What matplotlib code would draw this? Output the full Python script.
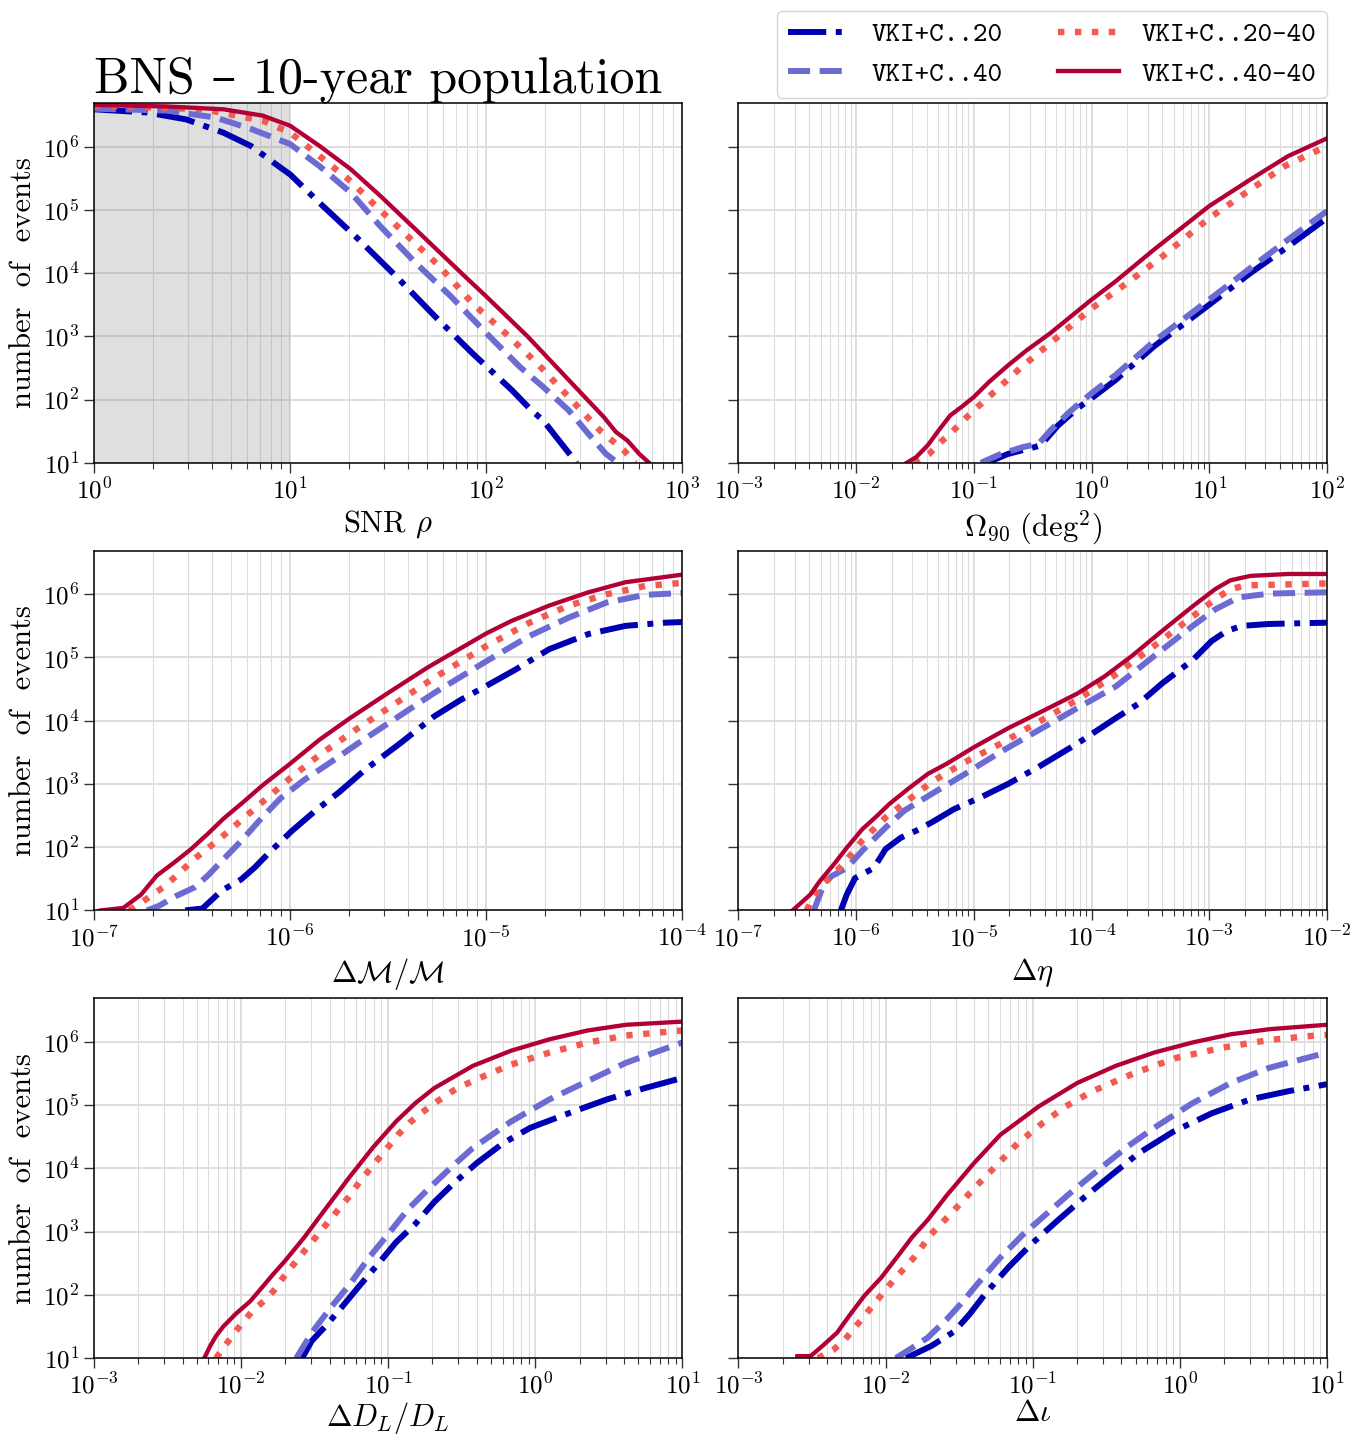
import numpy as np
import matplotlib
matplotlib.use("Agg")
import matplotlib.pyplot as plt
from matplotlib.ticker import LogLocator, FuncFormatter, NullLocator

# values, stored as (log10 x, log10 N) pairs
snr_20 = [(0, 6.59), (0.27, 6.54), (0.47, 6.43), (0.66, 6.22), (0.80, 6.01), (0.95, 5.67),
          (1.0, 5.56), (1.15, 5.11), (1.35, 4.53), (1.54, 3.95), (1.74, 3.31), (1.93, 2.73),
          (2.13, 2.15), (2.23, 1.83), (2.29, 1.67), (2.46, 1.0)]
snr_40 = [(0, 6.60), (0.37, 6.57), (0.62, 6.46), (0.80, 6.28), (1.0, 6.04), (1.15, 5.69),
          (1.31, 5.27), (1.46, 4.74), (1.64, 4.16), (1.82, 3.63), (2.0, 3.05), (2.17, 2.52),
          (2.29, 2.20), (2.42, 1.83), (2.52, 1.46), (2.61, 1.14), (2.67, 1.0)]
snr_2040 = [(0, 6.65), (0.56, 6.59), (0.86, 6.41), (1.0, 6.22), (1.13, 5.90), (1.31, 5.45),
            (1.42, 5.11), (1.59, 4.61), (1.76, 4.11), (1.93, 3.52), (2.09, 3.07), (2.26, 2.57),
            (2.42, 2.04), (2.58, 1.51), (2.70, 1.20), (2.76, 1.0)]
snr_4040 = [(0, 6.66), (0.37, 6.635), (0.66, 6.59), (0.86, 6.49), (1.0, 6.33), (1.15, 6.01),
            (1.31, 5.64), (1.46, 5.22), (1.64, 4.69), (1.89, 3.95), (2.0, 3.63), (2.21, 3.0),
            (2.42, 2.31), (2.60, 1.72), (2.66, 1.49), (2.72, 1.35), (2.78, 1.14), (2.83, 1.0)]

om_20 = [(-0.89, 1.0), (-0.71, 1.14), (-0.48, 1.25), (-0.43, 1.28), (-0.285, 1.59), (-0.12, 1.86),
         (0, 2.02), (0.205, 2.31), (0.53, 2.84), (1.0, 3.50), (1.35, 4.0), (1.67, 4.42), (2.0, 4.87)]
om_40 = [(-0.94, 1.0), (-0.77, 1.14), (-0.58, 1.25), (-0.45, 1.30), (-0.35, 1.51), (-0.19, 1.80),
         (0, 2.10), (0.205, 2.39), (0.53, 2.92), (1.0, 3.58), (1.35, 4.08), (1.67, 4.53), (2.0, 4.98)]
om_2040 = [(-1.51, 1.0), (-1.38, 1.14), (-1.28, 1.33), (-1.2, 1.46), (-1.1, 1.65), (-1.0, 1.83),
           (-0.81, 2.15), (-0.61, 2.49), (-0.32, 2.94), (0, 3.44), (0.30, 3.84), (0.60, 4.26),
           (1.0, 4.87), (1.35, 5.32), (1.64, 5.69), (2.0, 6.01)]
om_4040 = [(-1.57, 1.0), (-1.49, 1.09), (-1.39, 1.28), (-1.30, 1.51), (-1.2, 1.75), (-1.1, 1.89),
           (-1.0, 2.04), (-0.87, 2.28), (-0.71, 2.54), (-0.55, 2.78), (-0.35, 3.05), (0, 3.58),
           (0.205, 3.87), (0.53, 4.37), (1.0, 5.06), (1.35, 5.48), (1.67, 5.85), (2.0, 6.13)]

mc_20 = [(-6.535, 1.0), (-6.447, 1.03), (-6.35, 1.31), (-6.25, 1.49), (-6.18, 1.68), (-6.105, 1.92),
         (-5.99, 2.26), (-5.87, 2.58), (-5.75, 2.87), (-5.62, 3.22), (-5.44, 3.64), (-5.265, 4.07),
         (-5.13, 4.33), (-5.0, 4.55), (-4.85, 4.81), (-4.68, 5.13), (-4.48, 5.37), (-4.29, 5.50),
         (-4.09, 5.55), (-4.0, 5.56)]
mc_40 = [(-6.73, 1.0), (-6.67, 1.07), (-6.58, 1.23), (-6.49, 1.36), (-6.42, 1.55), (-6.33, 1.84),
         (-6.24, 2.13), (-6.14, 2.48), (-6.05, 2.77), (-5.93, 3.06), (-5.79, 3.35), (-5.655, 3.64),
         (-5.46, 4.04), (-5.265, 4.44), (-5.0, 4.94), (-4.78, 5.34), (-4.58, 5.63), (-4.385, 5.87),
         (-4.19, 5.99), (-4.0, 6.02)]
mc_2040 = [(-6.82, 1.0), (-6.77, 1.10), (-6.71, 1.23), (-6.65, 1.36), (-6.59, 1.52), (-6.49, 1.81),
           (-6.36, 2.13), (-6.24, 2.45), (-6.12, 2.77), (-6.0, 3.09), (-5.85, 3.46), (-5.655, 3.88),
           (-5.46, 4.28), (-5.265, 4.68), (-5.0, 5.18), (-4.78, 5.55), (-4.58, 5.82), (-4.385, 6.0),
           (-4.19, 6.13), (-4.0, 6.18)]
mc_4040 = [(-6.965, 1.0), (-6.85, 1.04), (-6.76, 1.25), (-6.68, 1.55), (-6.59, 1.76), (-6.505, 1.97),
           (-6.42, 2.21), (-6.34, 2.45), (-6.24, 2.71), (-6.14, 2.98), (-6.0, 3.32), (-5.85, 3.70),
           (-5.695, 4.04), (-5.5, 4.44), (-5.30, 4.84), (-5.0, 5.38), (-4.87, 5.58), (-4.68, 5.82),
           (-4.48, 6.03), (-4.29, 6.19), (-4.0, 6.31)]

eta_20 = [(-6.13, 1.0), (-6.08, 1.25), (-6.01, 1.51), (-5.93, 1.59), (-5.85, 1.67), (-5.75, 1.97),
          (-5.62, 2.15), (-5.49, 2.26), (-5.36, 2.39), (-5.17, 2.60), (-4.94, 2.79), (-4.71, 3.0),
          (-4.45, 3.27), (-4.12, 3.64), (-3.795, 4.04), (-3.6, 4.27), (-3.40, 4.59), (-3.14, 4.96),
          (-2.98, 5.26), (-2.85, 5.42), (-2.72, 5.50), (-2.49, 5.53), (-2.0, 5.55)]
eta_40 = [(-6.36, 1.0), (-6.275, 1.41), (-6.21, 1.54), (-6.08, 1.67), (-5.95, 1.94), (-5.75, 2.31),
          (-5.59, 2.58), (-5.36, 2.84), (-5.1, 3.13), (-4.77, 3.51), (-4.45, 3.85), (-4.12, 4.20),
          (-3.795, 4.54), (-3.47, 5.02), (-3.14, 5.50), (-2.95, 5.76), (-2.75, 5.95), (-2.49, 6.01),
          (-2.0, 6.03)]
eta_2040 = [(-6.42, 1.0), (-6.37, 1.2), (-6.29, 1.41), (-6.21, 1.54), (-6.11, 1.73), (-5.95, 2.10),
            (-5.75, 2.47), (-5.56, 2.74), (-5.36, 3.03), (-5.1, 3.32), (-4.77, 3.64), (-4.45, 3.98),
            (-4.12, 4.33), (-3.795, 4.73), (-3.47, 5.18), (-3.14, 5.65), (-2.95, 5.92), (-2.82, 6.08),
            (-2.69, 6.14), (-2.0, 6.17)]
eta_4040 = [(-6.54, 1.0), (-6.39, 1.25), (-6.31, 1.46), (-6.18, 1.75), (-6.08, 1.99), (-5.95, 2.28),
            (-5.82, 2.50), (-5.72, 2.68), (-5.56, 2.92), (-5.39, 3.16), (-5.23, 3.32), (-5.0, 3.58),
            (-4.71, 3.88), (-4.45, 4.12), (-4.12, 4.43), (-3.89, 4.70), (-3.66, 5.02), (-3.40, 5.42),
            (-3.14, 5.81), (-2.95, 6.08), (-2.82, 6.22), (-2.65, 6.29), (-2.33, 6.32), (-2.0, 6.32)]

dl_20 = [(-1.585, 1.0), (-1.52, 1.27), (-1.416, 1.53), (-1.31, 1.82), (-1.207, 2.11), (-1.05, 2.54),
         (-0.947, 2.83), (-0.816, 3.12), (-0.686, 3.47), (-0.556, 3.76), (-0.40, 4.08), (-0.217, 4.40),
         (-0.035, 4.64), (0.226, 4.87), (0.487, 5.09), (0.747, 5.27), (1.0, 5.43)]
dl_40 = [(-1.624, 1.0), (-1.57, 1.21), (-1.494, 1.48), (-1.39, 1.80), (-1.26, 2.17), (-1.13, 2.59),
         (-1.0, 2.96), (-0.87, 3.34), (-0.738, 3.65), (-0.556, 4.05), (-0.425, 4.32), (-0.165, 4.74),
         (0.096, 5.09), (0.356, 5.38), (0.617, 5.67), (1.0, 5.99)]
dl_2040 = [(-2.17, 1.0), (-2.12, 1.16), (-2.054, 1.37), (-1.99, 1.56), (-1.924, 1.74), (-1.846, 1.90),
           (-1.78, 2.06), (-1.715, 2.27), (-1.65, 2.46), (-1.585, 2.65), (-1.52, 2.83), (-1.455, 3.02),
           (-1.39, 3.20), (-1.324, 3.39), (-1.26, 3.57), (-1.194, 3.79), (-1.13, 3.97), (-1.064, 4.16),
           (-1.0, 4.34), (-0.934, 4.53), (-0.855, 4.72), (-0.777, 4.87), (-0.686, 5.03), (-0.53, 5.27),
           (-0.347, 5.46), (-0.165, 5.64), (0.096, 5.83), (0.356, 5.99), (0.617, 6.10), (1.0, 6.18)]
dl_4040 = [(-2.25, 1.0), (-2.21, 1.19), (-2.17, 1.35), (-2.12, 1.50), (-2.04, 1.69), (-1.937, 1.90),
           (-1.86, 2.11), (-1.78, 2.33), (-1.70, 2.54), (-1.57, 2.91), (-1.416, 3.39), (-1.26, 3.87),
           (-1.10, 4.34), (-0.947, 4.74), (-0.816, 5.03), (-0.686, 5.27), (-0.425, 5.62), (-0.165, 5.86),
           (0.096, 6.04), (0.356, 6.18), (0.617, 6.27), (1.0, 6.32)]

iota_20 = [(-1.86, 1.0), (-1.69, 1.19), (-1.533, 1.42), (-1.43, 1.69), (-1.324, 2.01), (-1.167, 2.43),
           (-1.01, 2.80), (-0.828, 3.18), (-0.645, 3.55), (-0.467, 3.89), (-0.279, 4.24), (-0.044, 4.58),
           (0.217, 4.87), (0.478, 5.09), (0.739, 5.22), (1.0, 5.33)]
iota_40 = [(-1.93, 1.0), (-1.82, 1.16), (-1.715, 1.32), (-1.585, 1.61), (-1.48, 1.88), (-1.376, 2.17),
           (-1.22, 2.59), (-1.063, 2.96), (-0.906, 3.28), (-0.75, 3.60), (-0.567, 3.95), (-0.358, 4.34),
           (-0.175, 4.64), (0.086, 5.03), (0.347, 5.35), (0.608, 5.59), (1.0, 5.83)]
iota_2040 = [(-2.46, 1.0), (-2.355, 1.13), (-2.277, 1.29), (-2.21, 1.48), (-2.146, 1.66), (-2.08, 1.85),
             (-1.95, 2.22), (-1.807, 2.59), (-1.69, 2.96), (-1.533, 3.34), (-1.40, 3.68), (-1.245, 4.05),
             (-1.10, 4.40), (-0.93, 4.72), (-0.775, 4.98), (-0.593, 5.22), (-0.305, 5.51), (-0.018, 5.75),
             (0.295, 5.91), (0.608, 6.03), (0.92, 6.10), (1.0, 6.11)]
iota_4040 = [(-2.60, 1.03), (-2.51, 1.03), (-2.42, 1.21), (-2.33, 1.40), (-2.24, 1.69), (-2.146, 1.98),
             (-2.03, 2.27), (-1.924, 2.59), (-1.82, 2.91), (-1.715, 3.18), (-1.585, 3.57), (-1.40, 4.08),
             (-1.22, 4.53), (-0.958, 4.98), (-0.697, 5.35), (-0.436, 5.62), (-0.175, 5.83), (0.086, 5.99),
             (0.347, 6.12), (0.608, 6.20), (1.0, 6.27)]

labels = ["VKI+C..20", "VKI+C..40", "VKI+C..20-40", "VKI+C..40-40"]
xlabels = [r"SNR $\rho$", r"$\Omega_{90}\ (\mathrm{deg}^2)$", r"$\Delta\mathcal{M}/\mathcal{M}$",
           r"$\Delta\eta$", r"$\Delta D_L/D_L$", r"$\Delta\iota$"]
xlims = [(1e0, 1e3), (1e-3, 1e2), (1e-7, 1e-4), (1e-7, 1e-2), (1e-3, 1e1), (1e-3, 1e1)]
ylim = (10, 4.9e6)

colors = ["#0000B3", "#6B6BD3", "#F45A50", "#B20034"]
linestyles = ["-.", "--", ":", "-"]
linewidths = [4.3, 4.3, 4.6, 3.1]

plt.rcParams["font.family"] = ["cmr10", "DejaVu Serif"]
plt.rcParams["mathtext.fontset"] = "cm"
plt.rcParams["axes.unicode_minus"] = False
plt.rcParams["axes.formatter.use_mathtext"] = True


def power_label(val, pos):
    """Tick label as 10^n"""
    if val <= 0:
        return ""
    return r"$10^{%d}$" % int(round(np.log10(val)))


def draw_panel(ax, series, xlim, xlabel, labelpad=4):
    """Draw the four cumulative curves of one panel"""
    for pts, lab, col, ls, lw in zip(series, labels, colors, linestyles, linewidths):
        pts = np.array(pts)
        ax.plot(10 ** pts[:, 0], 10 ** pts[:, 1], color=col, ls=ls, lw=lw, label=lab)

    ax.set_xscale("log")
    ax.set_yscale("log")
    ax.set_xlim(*xlim)
    ax.set_ylim(*ylim)

    ax.xaxis.set_major_locator(LogLocator(base=10, numticks=20))
    ax.xaxis.set_minor_locator(LogLocator(base=10, subs=np.arange(2, 10), numticks=20))
    ax.xaxis.set_major_formatter(FuncFormatter(power_label))
    ax.yaxis.set_major_locator(LogLocator(base=10, numticks=20))
    ax.yaxis.set_minor_locator(NullLocator())
    ax.yaxis.set_major_formatter(FuncFormatter(power_label))

    ax.grid(which="major", color="0.87", lw=1.4, zorder=0)
    ax.grid(which="minor", axis="x", color="0.86", lw=0.8, zorder=0)
    ax.set_axisbelow(True)

    ax.tick_params(which="major", length=7, width=1.0, labelsize=18, color="0.2")
    ax.tick_params(which="minor", length=4.5, width=0.8, color="0.2")
    for sp in ax.spines.values():
        sp.set_linewidth(1.1)

    ax.set_xlabel(xlabel, fontsize=22, labelpad=labelpad)


fig, axes = plt.subplots(3, 2, figsize=(13.66, 14.36), dpi=100, sharey=True)
fig.subplots_adjust(left=0.0688, right=0.9714, top=0.9283, bottom=0.0543,
                    wspace=0.0952, hspace=0.244)

panels = [
    [snr_20, snr_40, snr_2040, snr_4040],
    [om_20, om_40, om_2040, om_4040],
    [mc_20, mc_40, mc_2040, mc_4040],
    [eta_20, eta_40, eta_2040, eta_4040],
    [dl_20, dl_40, dl_2040, dl_4040],
    [iota_20, iota_40, iota_2040, iota_4040],
]

for i, ax in enumerate(axes.flat):
    pad = 1 if i >= 4 else 4
    draw_panel(ax, panels[i], xlims[i], xlabels[i], labelpad=pad)
    if i % 2 == 0:
        ax.set_ylabel("number  of  events", fontsize=22, labelpad=4)
    else:
        ax.tick_params(labelleft=False)

# detection threshold region
axes[0, 0].axvspan(1, 10, color="gray", alpha=0.25, lw=0, zorder=1)

axes[0, 0].set_title("BNS – 10-year population", loc="left", fontsize=36, pad=6)

axes[0, 1].legend(loc="lower right", bbox_to_anchor=(1.0, 1.014), ncol=2,
                  prop={"family": "cmtt10", "size": 20}, handlelength=2.2,
                  borderaxespad=0, columnspacing=2.0)

fig.savefig("out.png", dpi=100)
